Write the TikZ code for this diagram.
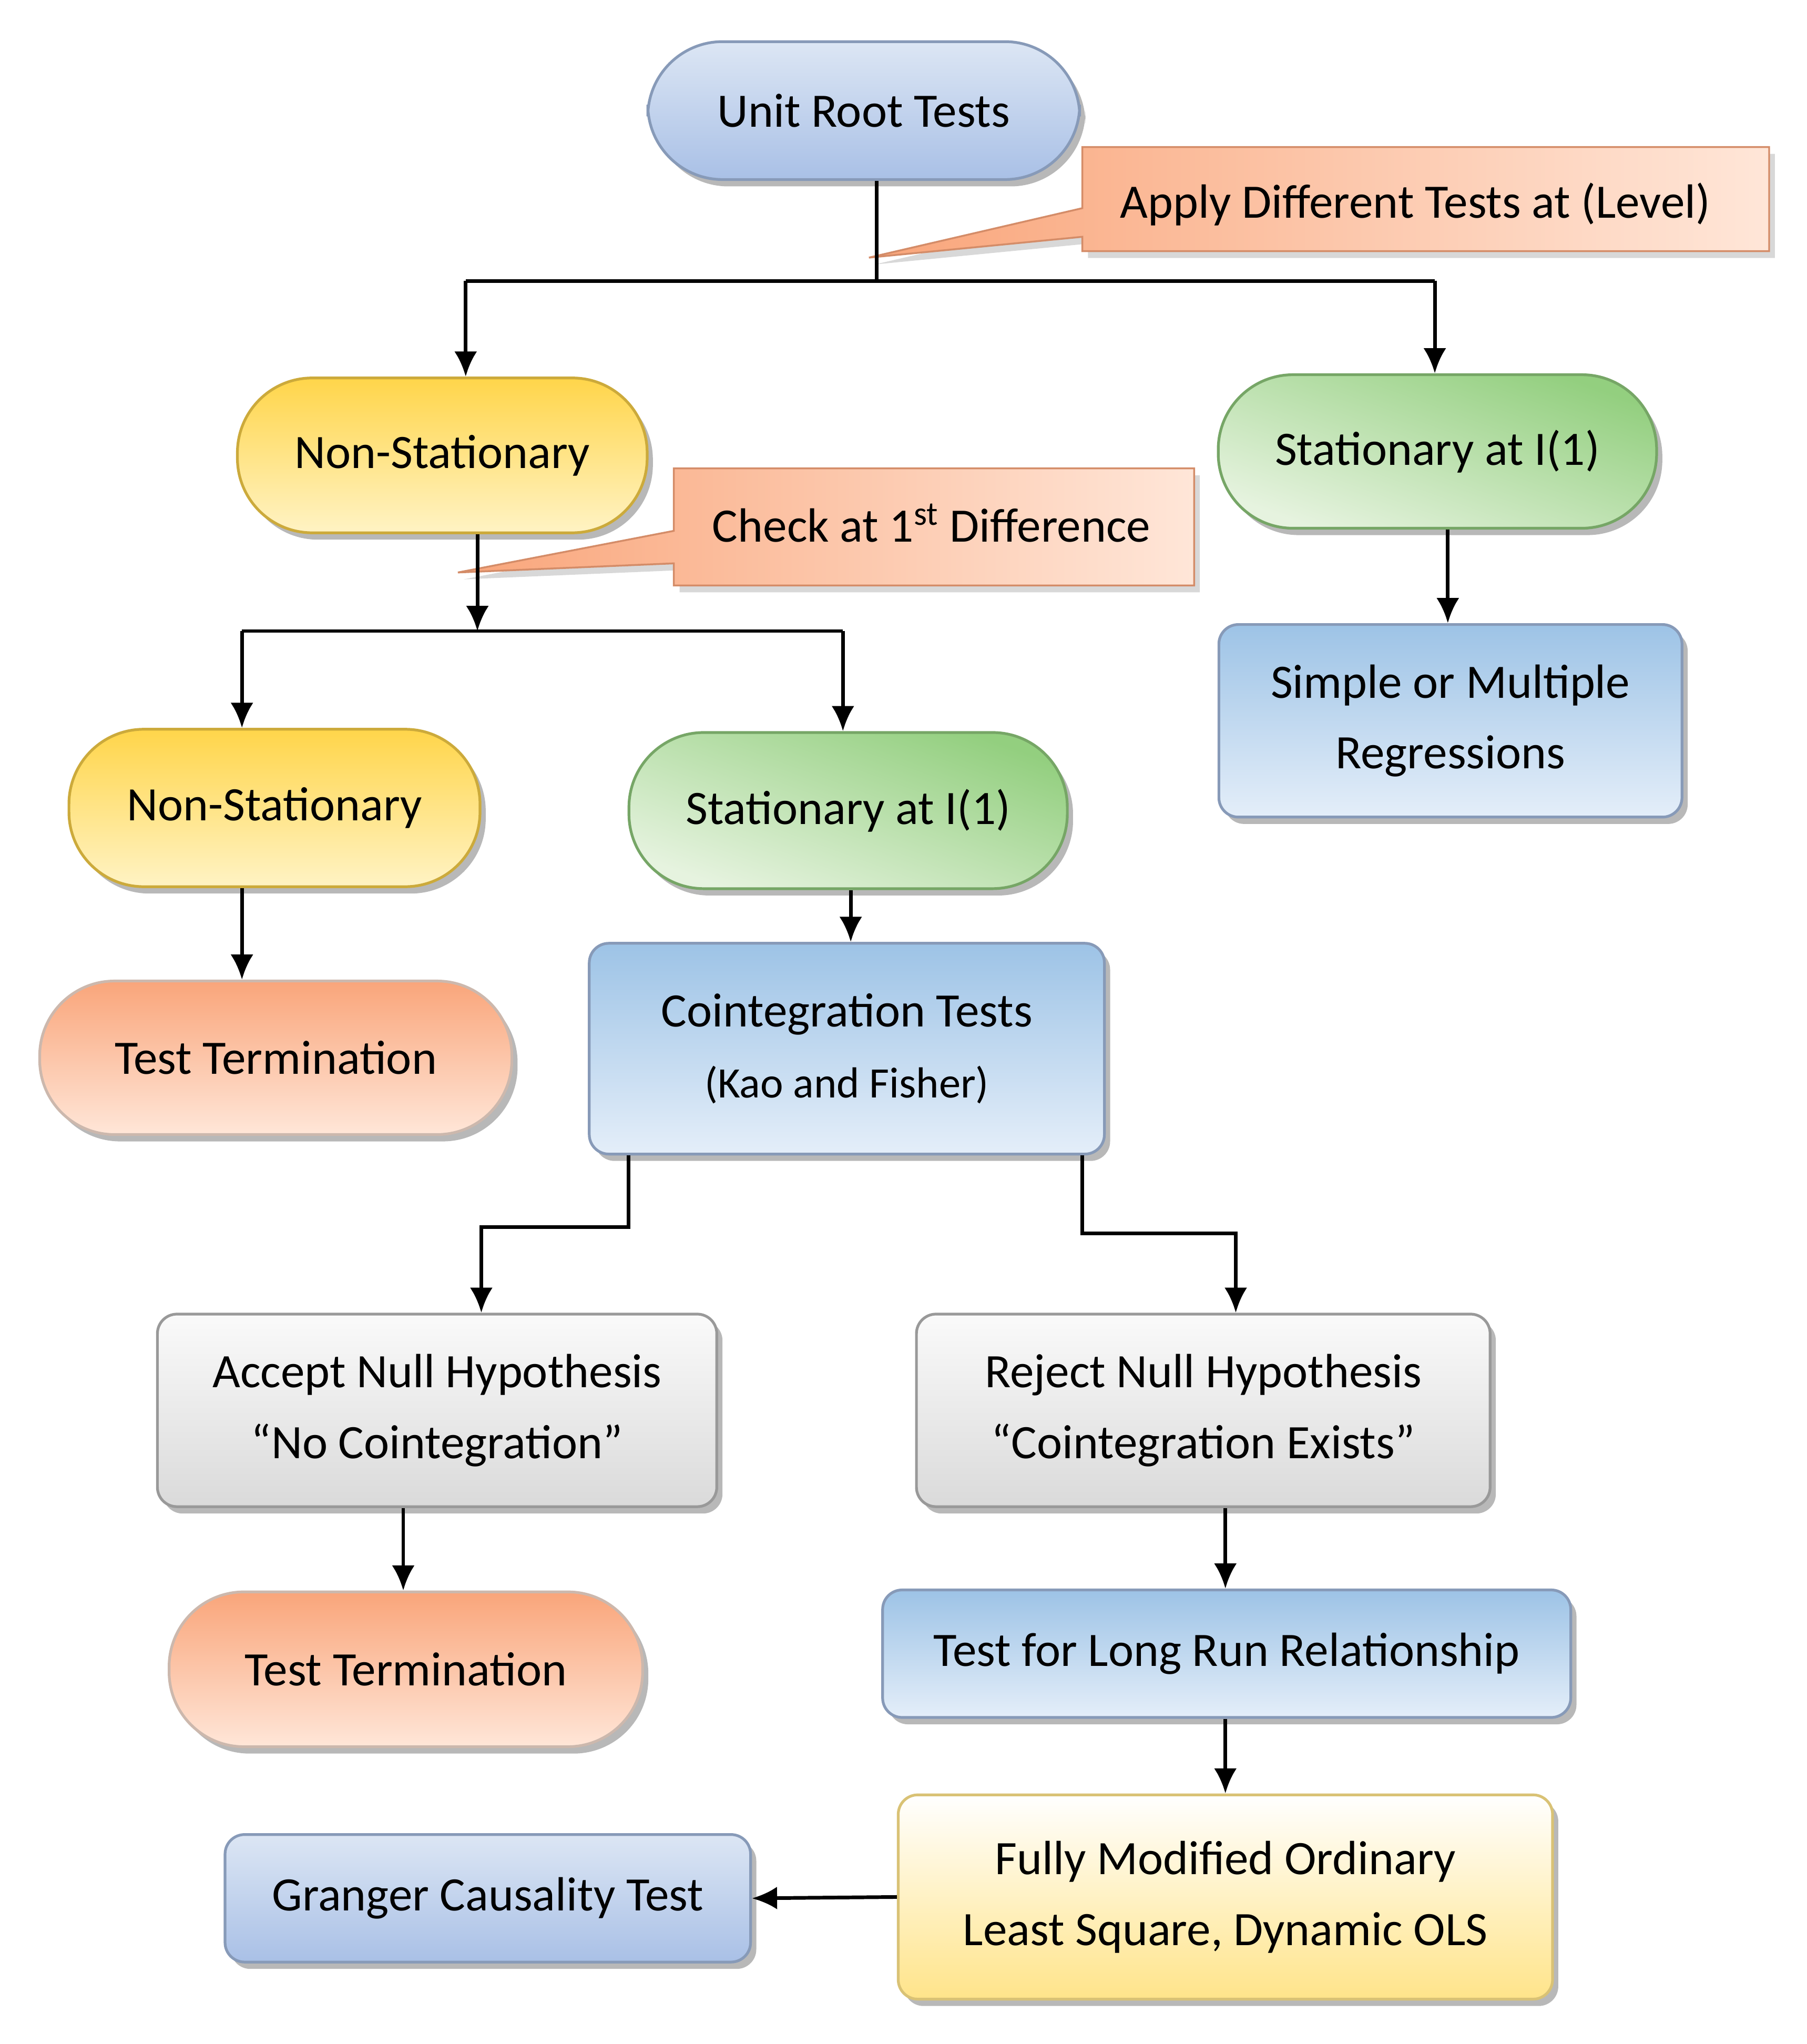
\documentclass[tikz,border=0pt]{standalone}
\usepackage{fontspec}
\setmainfont{Carlito}
\usetikzlibrary{shadows,arrows.meta}
\definecolor{bl1}{HTML}{E4EEF9}\definecolor{bl2}{HTML}{9DC3E6}
\definecolor{bd1}{HTML}{DCE6F4}\definecolor{bd2}{HTML}{A9C0E6}
\definecolor{ye1}{HTML}{FFF3C4}\definecolor{ye2}{HTML}{FFD54A}
\definecolor{gr1}{HTML}{E6F3DF}\definecolor{gr2}{HTML}{93CF7F}
\definecolor{or1}{HTML}{FFE6D8}\definecolor{or2}{HTML}{F9A57A}
\definecolor{gy1}{HTML}{FAFAFA}\definecolor{gy2}{HTML}{DADADA}
\definecolor{fy1}{HTML}{FFFFFF}\definecolor{fy2}{HTML}{FFE48A}
\tikzset{
 base/.style={draw=#1,line width=1.2pt,align=center,font=\fontsize{21}{31}\selectfont,
   drop shadow={shadow xshift=2.5pt,shadow yshift=-3pt,fill=black!35,opacity=0.8}},
 pill/.style 2 args={base=#2!80!black,rounded corners=1.15cm,left color=#1,right color=#2,shading angle=0},
 blu/.style={base=bd2!80!black,rounded corners=0.3cm,shading angle=135,top color=bl2,bottom color=bl1},
 bluH/.style={base=bd2!80!black,rounded corners=0.3cm,top color=bd1,bottom color=bd2},
 gry/.style={base=gy2!70!black,rounded corners=0.3cm,top color=gy1,bottom color=gy2},
 arr/.style={line width=1.6pt,-{Latex[length=11pt,width=10pt]}},
 ln/.style={line width=1.6pt},
 call/.style={draw=or2!85!black,line width=0.8pt,left color=or2,right color=or1,
   drop shadow={shadow xshift=2.5pt,shadow yshift=-3pt,fill=black!30}},
}
\begin{document}
\begin{tikzpicture}[x=0.02cm,y=-0.02cm]
\useasboundingbox (0,0) rectangle (1389,1571);
% callouts
\path[call] (832,113)--(1360,113)--(1360,193)--(832,193)--(832,182)--(668,198)--(832,160)--cycle;
\node[font=\fontsize{21}{25}\selectfont] (c1) at (1088,157) {Apply Different Tests at (Level)};
\path[call] (518,360)--(918,360)--(918,450)--(518,450)--(518,433)--(352,440)--(518,408)--cycle;
\node[font=\fontsize{21}{25}\selectfont] (c2) at (716,402) {Check at 1\textsuperscript{st} Difference};
% nodes
\node[pill={bd1}{bd2},top color=bd1,bottom color=bd2,minimum width=332*0.02cm,minimum height=106*0.02cm] (unit) at (664,85) {Unit Root Tests};
\node[pill={ye1}{ye2},top color=ye2,bottom color=ye1,minimum width=315*0.02cm,minimum height=119*0.02cm] (ns1) at (340,350) {Non-Stationary};
\node[pill={gr1}{gr2},top color=gr1,bottom color=gr2,shading angle=160,minimum width=337*0.02cm,minimum height=118*0.02cm] (st1) at (1105,347) {Stationary at I(1)};
\node[blu,minimum width=356*0.02cm,minimum height=148*0.02cm] (simple) at (1115,554) {Simple or Multiple\\Regressions};
\node[pill={ye1}{ye2},top color=ye2,bottom color=ye1,minimum width=316*0.02cm,minimum height=121*0.02cm] (ns2) at (211,621) {Non-Stationary};
\node[pill={gr1}{gr2},top color=gr1,bottom color=gr2,shading angle=160,minimum width=337*0.02cm,minimum height=120*0.02cm] (st2) at (652,623) {Stationary at I(1)};
\node[pill={or2}{or1},minimum width=363*0.02cm,minimum height=118*0.02cm] (t1) at (212,813) {Test Termination};
\node[blu,minimum width=396*0.02cm,minimum height=162*0.02cm] (coint) at (651,806) {Cointegration Tests\\{\fontsize{19}{31}\selectfont(Kao and Fisher)}};
\node[gry,minimum width=430*0.02cm,minimum height=148*0.02cm] (acc) at (336,1084) {Accept Null Hypothesis\\“No Cointegration”};
\node[gry,minimum width=441*0.02cm,minimum height=148*0.02cm] (rej) at (925,1084) {Reject Null Hypothesis\\“Cointegration Exists”};
\node[pill={or2}{or1},minimum width=364*0.02cm,minimum height=119*0.02cm] (t2) at (312,1283) {Test Termination};
\node[blu,shading angle=0,minimum width=529*0.02cm,minimum height=98*0.02cm] (long) at (943,1271) {Test for Long Run Relationship};
\node[base=fy2!85!black,rounded corners=0.3cm,top color=fy1,bottom color=fy2,minimum width=503*0.02cm,minimum height=157*0.02cm] (fm) at (942,1458) {Fully Modified Ordinary\\Least Square, Dynamic OLS};
\node[bluH,minimum width=404*0.02cm,minimum height=98*0.02cm] (gr) at (375,1459) {Granger Causality Test};
% connectors
\coordinate (j1) at (674,216); \coordinate (a1) at (358,216); \coordinate (b1) at (1103,216);
\coordinate (j2) at (367,485); \coordinate (a2) at (186,485); \coordinate (b2) at (648,485);
\coordinate (k1) at (483,943); \coordinate (k2) at (370,943);
\coordinate (m1) at (832,948); \coordinate (m2) at (950,948);
\draw[ln] (unit.south -| j1) -- (j1);
\draw[ln] (a1) -- (b1);
\draw[arr] (a1) -- (ns1.north -| a1);
\draw[arr] (b1) -- (st1.north -| b1);
\draw[arr] (ns1.south -| j2) -- (j2);
\draw[ln] (a2) -- (b2);
\draw[arr] (a2) -- (ns2.north -| a2);
\draw[arr] (b2) -- (st2.north -| b2);
\draw[arr] (st1.south -| 1113,0) -- (simple.north -| 1113,0);
\draw[arr] (ns2.south -| a2) -- (t1.north -| a2);
\draw[arr] (st2.south -| 654,0) -- (coint.north -| 654,0);
\draw[arr] (coint.south -| k1) -- (k1) -- (k2) -- (acc.north -| k2);
\draw[arr] (coint.south -| m1) -- (m1) -- (m2) -- (rej.north -| m2);
\draw[arr] (acc.south -| 310,0) -- (t2.north -| 310,0);
\draw[arr] (rej.south -| 942,0) -- (long.north -| 942,0);
\draw[arr] (long.south -| 942,0) -- (fm.north -| 942,0);
\draw[arr] (fm.west) -- (gr.east);
\end{tikzpicture}
\end{document}
